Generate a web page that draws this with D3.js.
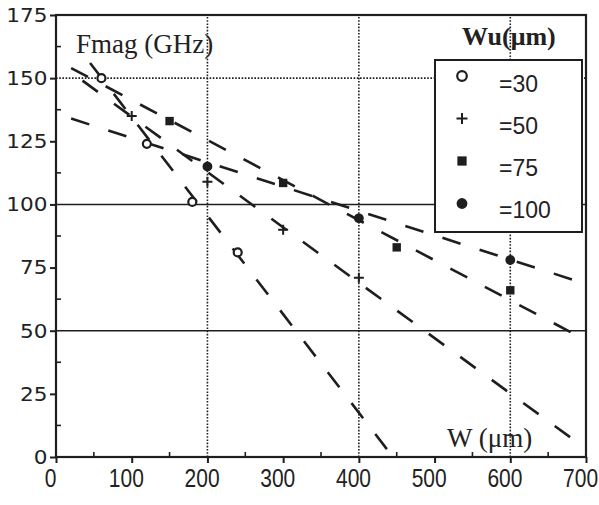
<!DOCTYPE html>
<html>
<head>
<meta charset="utf-8">
<script src="https://cdn.jsdelivr.net/npm/d3@7"></script>
<style>
  body { margin: 0; background: #fff; }
  .ylab { font-family: "DejaVu Sans", sans-serif; font-size: 20px; fill: #222; }
  .xlab { font-family: "Liberation Sans", sans-serif; font-size: 25px; fill: #222; }
  .serif { font-family: "Liberation Serif", serif; fill: #222; }
  .leg { font-family: "Liberation Sans", sans-serif; font-size: 23px; fill: #222; }
</style>
</head>
<body>
<svg id="chart" width="599" height="505"></svg>
<script>
'use strict'

// Wu series (um)
const wuLabels = ['=30', '=50', '=75', '=100']
const wuSymbols = ['open', 'plus', 'square', 'dot']

// measured points: W (um) and Fmag (GHz) for each Wu
const w30 = [60, 120, 180, 240]
const f30 = [150, 124, 101, 81]
const w50 = [100, 200, 300, 400]
const f50 = [135, 109, 90, 71]
const w75 = [150, 300, 450, 600]
const f75 = [133, 108.5, 83, 66]
const w100 = [200, 400, 600]
const f100 = [115, 94.5, 78]

// dashed fit lines, start and end, same order as wuLabels
const fitW = [[45, 445], [35, 692], [20, 695], [20, 695]]
const fitF = [[156, 0], [149, 5], [154, 47], [134, 69]]

const xTicks = [0, 100, 200, 300, 400, 500, 600, 700]
const yTicks = [0, 25, 50, 75, 100, 125, 150, 175]
const xGrid = [200, 400, 600]
const yGridSolid = [50, 100]
const yGridDotted = [150]

const ink = '#1e1e1e'
const svg = d3.select('#chart')

const x = d3.scaleLinear().domain([0, 700]).range([56, 586])
const y = d3.scaleLinear().domain([0, 175]).range([457, 15])

// grid
svg.append('g').selectAll('line')
  .data(xGrid).enter().append('line')
  .attr('x1', d => x(d)).attr('x2', d => x(d))
  .attr('y1', y(0)).attr('y2', y(175))
  .attr('stroke', ink).attr('stroke-width', 1.6)
  .attr('stroke-dasharray', '1.6,1.6')
svg.append('g').selectAll('line')
  .data(yGridDotted).enter().append('line')
  .attr('x1', x(0)).attr('x2', x(700))
  .attr('y1', d => y(d)).attr('y2', d => y(d))
  .attr('stroke', ink).attr('stroke-width', 1.6)
  .attr('stroke-dasharray', '1.6,1.6')
svg.append('g').selectAll('line')
  .data(yGridSolid).enter().append('line')
  .attr('x1', x(0)).attr('x2', x(700))
  .attr('y1', d => y(d)).attr('y2', d => y(d))
  .attr('stroke', ink).attr('stroke-width', 1.4)

// dashed fits
const fits = wuLabels.map((k, i) => [[fitW[i][0], fitF[i][0]], [fitW[i][1], fitF[i][1]]])
const line = d3.line().x(d => x(d[0])).y(d => y(d[1]))
svg.append('g').selectAll('path')
  .data(fits).enter().append('path')
  .attr('d', line)
  .attr('fill', 'none')
  .attr('stroke', ink).attr('stroke-width', 2.6)
  .attr('stroke-dasharray', '19,20')

// markers
function drawSymbol (g, kind, cx, cy, s) {
  if (kind === 'open') {
    g.append('circle').attr('cx', cx).attr('cy', cy).attr('r', 4 * s)
      .attr('fill', '#fff').attr('stroke', ink).attr('stroke-width', 2.2)
  } else if (kind === 'plus') {
    g.append('path')
      .attr('d', `M${cx - 5 * s},${cy}H${cx + 5 * s}M${cx},${cy - 5 * s}V${cy + 5 * s}`)
      .attr('stroke', ink).attr('stroke-width', 2)
  } else if (kind === 'square') {
    g.append('rect').attr('x', cx - 4.2 * s).attr('y', cy - 4.2 * s)
      .attr('width', 8.4 * s).attr('height', 8.4 * s).attr('fill', ink)
  } else {
    g.append('circle').attr('cx', cx).attr('cy', cy).attr('r', 4.9 * s).attr('fill', ink)
  }
}
const pts = [[w30, f30], [w50, f50], [w75, f75], [w100, f100]]
const markG = svg.append('g')
pts.forEach(function (p, i) {
  p[0].forEach(function (w, j) {
    drawSymbol(markG, wuSymbols[i], x(w), y(p[1][j]), 1)
  })
})

// axes
const yAxis = d3.axisLeft(y).tickValues(yTicks).tickSize(6).tickPadding(2)
const gy = svg.append('g').attr('transform', `translate(${x(0)},0)`).call(yAxis)
gy.select('.domain').remove()
gy.selectAll('line').attr('stroke', ink).attr('stroke-width', 2)
gy.selectAll('text').attr('class', 'ylab').attr('font-size', null).attr('font-family', null)
  .attr('transform', 'scale(1.08,1)')

const xAxis = d3.axisBottom(x).tickValues(xTicks).tickSize(6).tickPadding(6)
const gx = svg.append('g').attr('transform', `translate(0,${y(0)})`).call(xAxis)
gx.select('.domain').remove()
gx.selectAll('line').attr('stroke', ink).attr('stroke-width', 2)
gx.selectAll('text').attr('class', 'xlab').attr('font-size', null).attr('font-family', null)
  .attr('x', -7)
  .attr('transform', 'scale(0.84,1)')

// minor ticks
svg.append('g').selectAll('line')
  .data(d3.range(12.5, 175, 25)).enter().append('line')
  .attr('x1', x(0)).attr('x2', x(0) + 5)
  .attr('y1', d => y(d)).attr('y2', d => y(d))
  .attr('stroke', ink).attr('stroke-width', 1.6)
svg.append('g').selectAll('line')
  .data(d3.range(50, 700, 100)).enter().append('line')
  .attr('x1', d => x(d)).attr('x2', d => x(d))
  .attr('y1', y(0)).attr('y2', y(0) - 5)
  .attr('stroke', ink).attr('stroke-width', 1.6)

// frame
svg.append('rect')
  .attr('x', x(0)).attr('y', y(175))
  .attr('width', x(700) - x(0)).attr('height', y(0) - y(175))
  .attr('fill', 'none').attr('stroke', ink).attr('stroke-width', 2.2)

// legend
const lg = svg.append('g')
lg.append('rect').attr('x', 435).attr('y', 60).attr('width', 147).attr('height', 172)
  .attr('fill', '#fff').attr('stroke', ink).attr('stroke-width', 2)
wuLabels.forEach(function (lab, i) {
  drawSymbol(lg, wuSymbols[i], 462, 76 + i * 42.5, i === 0 ? 1.2 : 1.1)
  lg.append('text').attr('class', 'leg').attr('x', 499).attr('y', 92 + i * 42).text(lab)
})

// titles
svg.append('text').attr('class', 'serif').attr('x', 76).attr('y', 53)
  .attr('font-size', 27).text('Fmag (GHz)')
svg.append('text').attr('class', 'serif').attr('x', 462).attr('y', 45)
  .attr('font-size', 26).attr('font-weight', 'bold').text('Wu(\u03bcm)')
svg.append('text').attr('class', 'serif').attr('x', 447).attr('y', 447)
  .attr('font-size', 27).text('W (\u03bcm)')
</script>
</body>
</html>
